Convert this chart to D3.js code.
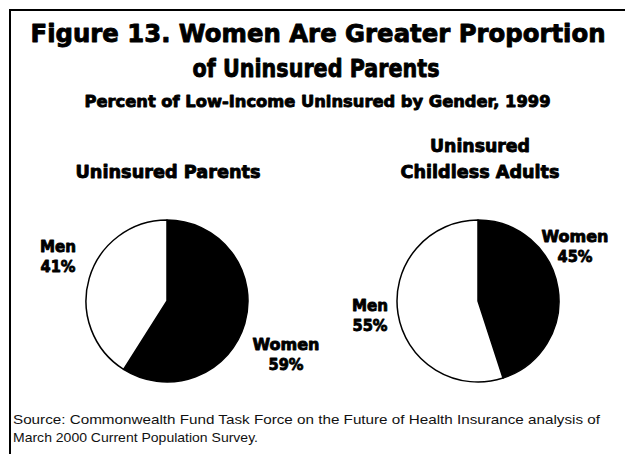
<!DOCTYPE html>
<html>
<head>
<meta charset="utf-8">
<script src="https://cdn.jsdelivr.net/npm/d3@7"></script>
<style>
  html, body { margin: 0; padding: 0; background: #fff; }
  svg { display: block; }
  .heavy { font-family: "DejaVu Sans", "Liberation Sans", sans-serif; font-weight: bold; fill: #000;
           stroke: #000; stroke-width: 0.9; stroke-linejoin: round; }
  .src { font-family: "Liberation Sans", Arial, sans-serif; font-size: 13.5px; fill: #111; }
</style>
</head>
<body>
<svg id="chart" width="625" height="454"></svg>
<script>
// Chart data
const titleLines = ["Figure 13. Women Are Greater Proportion", "of Uninsured Parents"];
const subtitle = "Percent of Low-Income Uninsured by Gender, 1999";
const genders = ["Women", "Men"];
const parentsShare = [59, 41];
const childlessShare = [45, 55];
const sourceLines = [
  "Source: Commonwealth Fund Task Force on the Future of Health Insurance analysis of",
  "March 2000 Current Population Survey."
];

// Layout
const W = 625, H = 454;
const svg = d3.select("#chart");
const fills = d3.scaleOrdinal().domain(genders).range(["#000", "#fff"]);

// Frame: top and left rules
svg.append("line").attr("x1", 9).attr("x2", W).attr("y1", 10).attr("y2", 10)
  .attr("stroke", "#000").attr("stroke-width", 2);
svg.append("line").attr("x1", 10).attr("x2", 10).attr("y1", 9).attr("y2", H)
  .attr("stroke", "#000").attr("stroke-width", 2);

function heavyText(x, y, size, width, str) {
  return svg.append("text").attr("class", "heavy").attr("x", x).attr("y", y)
    .attr("text-anchor", "middle").attr("font-size", size)
    .attr("textLength", width).attr("lengthAdjust", "spacingAndGlyphs").text(str);
}

// Titles
heavyText(318, 42, 25, 575, titleLines[0]);
heavyText(316, 77, 25, 247, titleLines[1]);
heavyText(317.5, 107, 16.5, 466, subtitle);

// Pie panels
const radius = 81;
const pie = d3.pie().sort(null).startAngle(0).endAngle(2 * Math.PI);
const arc = d3.arc().innerRadius(0).outerRadius(radius);

const panels = [
  {
    cx: 167, cy: 301, values: parentsShare,
    header: [{ text: "Uninsured Parents", x: 168, y: 178, w: 185 }],
    labels: [{ x: 286, y: 350 }, { x: 58, y: 252 }]
  },
  {
    cx: 478, cy: 301, values: childlessShare,
    header: [
      { text: "Uninsured", x: 480, y: 152, w: 100 },
      { text: "Childless Adults", x: 480, y: 178, w: 159 }
    ],
    labels: [{ x: 575, y: 242 }, { x: 370, y: 311 }]
  }
];
const labelWidths = { Women: 67, Men: 36 };

panels.forEach(p => {
  const g = svg.append("g").attr("transform", `translate(${p.cx},${p.cy})`);
  const slices = pie(p.values).map((s, i) => Object.assign(s, { gender: genders[i] }));

  g.selectAll("path").data(slices).join("path")
    .attr("d", arc)
    .attr("fill", d => fills(d.gender))
    .attr("stroke", "#000").attr("stroke-width", 1.5)
    .attr("stroke-linejoin", "round");

  p.header.forEach(h => heavyText(h.x, h.y, 18, h.w, h.text));

  slices.forEach((s, i) => {
    const pos = p.labels[i];
    heavyText(pos.x, pos.y, 16.5, labelWidths[s.gender], s.gender);
    heavyText(pos.x, pos.y + 20, 16.5, 35, s.value + "%");
  });
});

// Source note
sourceLines.forEach((line, i) => {
  svg.append("text").attr("class", "src").attr("x", 13).attr("y", 424 + i * 18)
    .attr("textLength", i === 0 ? 587 : 245)
    .attr("lengthAdjust", "spacingAndGlyphs")
    .text(line);
});
</script>
</body>
</html>
